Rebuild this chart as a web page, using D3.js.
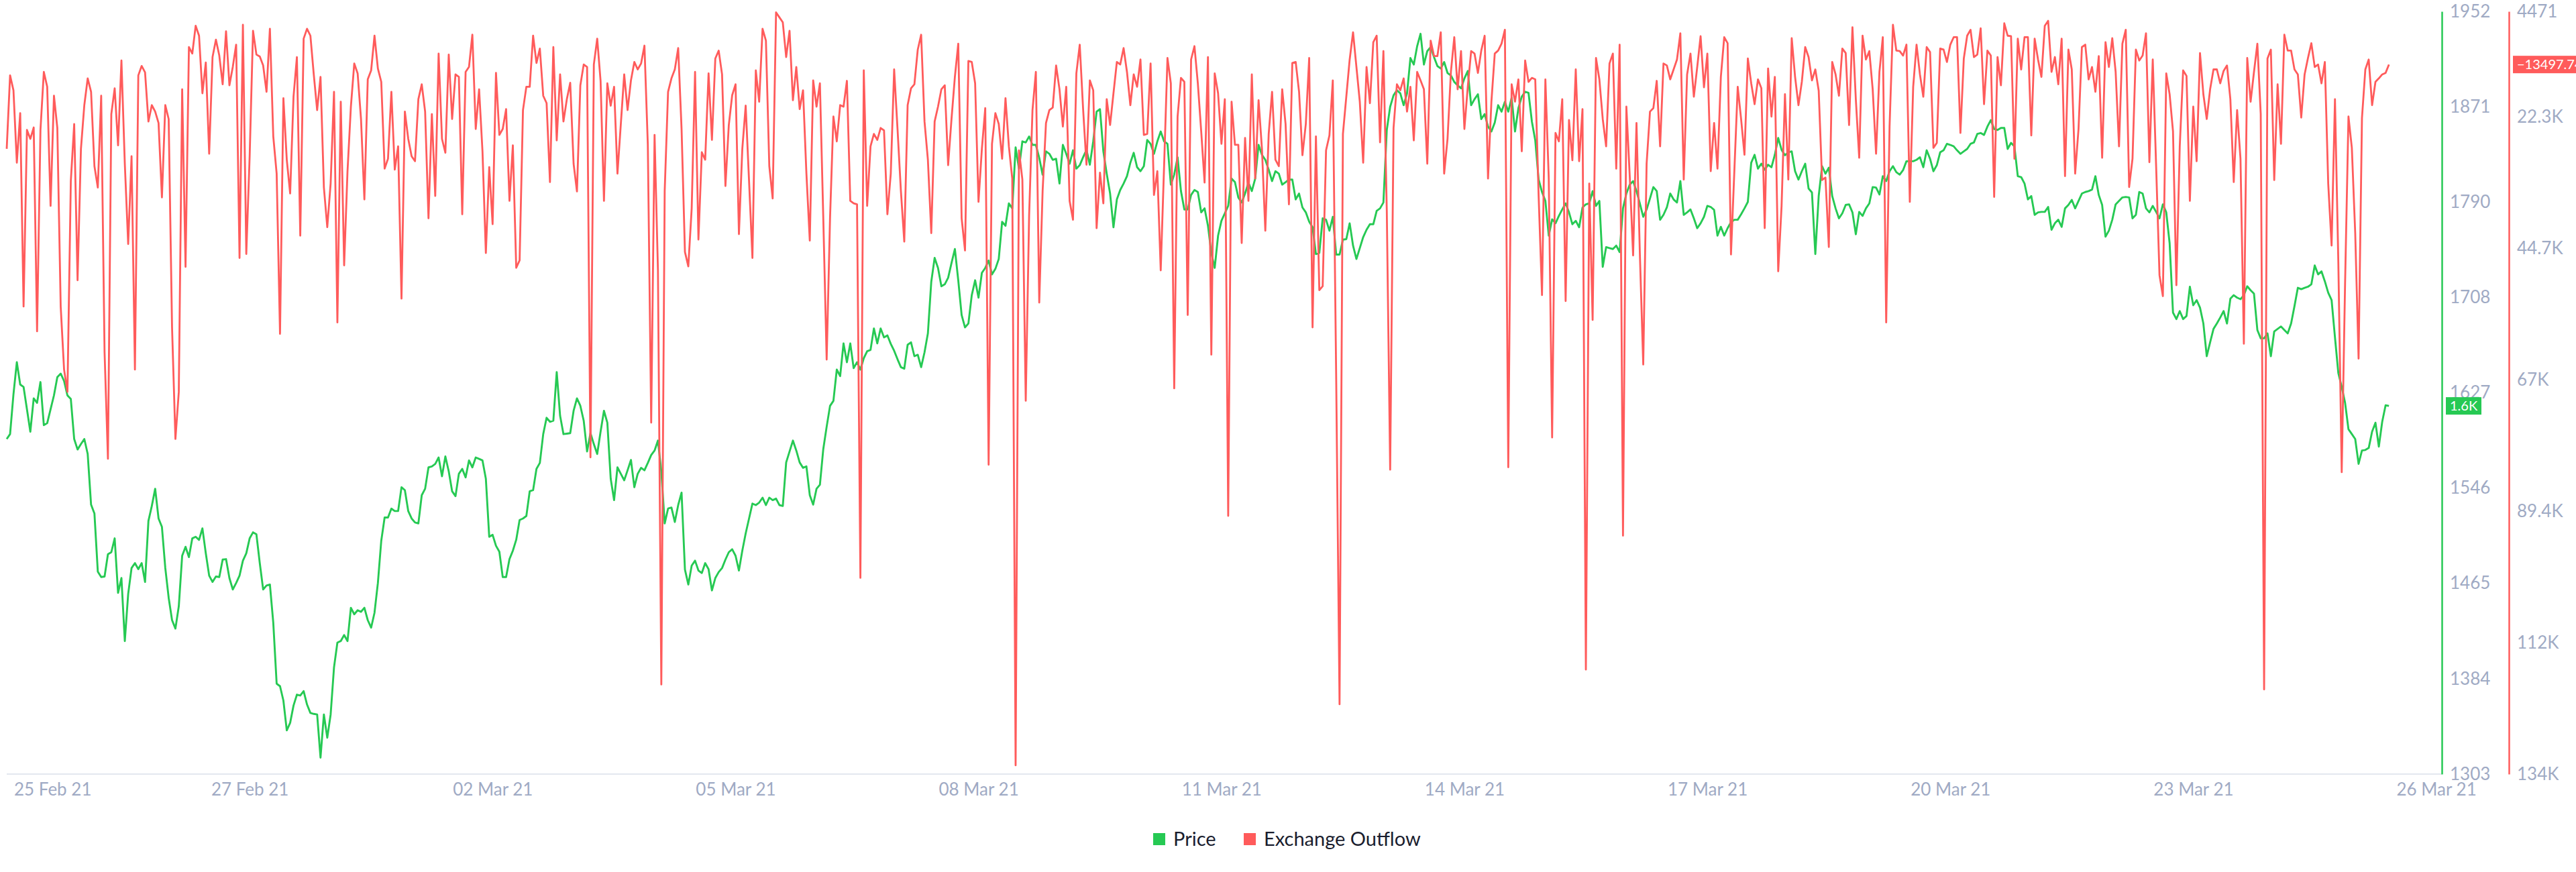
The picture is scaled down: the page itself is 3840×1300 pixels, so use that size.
<!DOCTYPE html>
<html><head><meta charset="utf-8">
<script src="https://cdn.jsdelivr.net/npm/d3@7"></script>
<style>
html,body{margin:0;padding:0;background:#fff;}
svg{display:block;}
text{font-family:Lato,"Open Sans",sans-serif;}
</style>
</head><body>
<svg id="chart" width="3840" height="1300"></svg>
<script>
// ---------- DATA ----------
const startTime = "2021-02-24T00:00:00Z";   // hourly series
const endTime = "2021-03-26T00:00:00Z";
const seriesNames = ["Price", "Exchange Outflow"];

const price = [
1588.1,1592.3,1626.1,1653.5,1634.5,1632.4,1613.4,1594.4,1622.7,1618.9,
1636.6,1599.9,1601.6,1613.4,1625.2,1640.8,1643.8,1637.5,1625.2,1622.2,
1588.1,1579.2,1583.8,1588.1,1575.4,1532.3,1524.7,1475.3,1470.7,1471.1,
1490.1,1491.8,1503.6,1457.2,1469.8,1416.2,1456.3,1478.3,1482.5,1477.4,
1482.5,1466.5,1518.4,1531.1,1545.8,1520.5,1513.3,1478.3,1453.0,1434.0,
1426.8,1445.8,1488.8,1496.4,1487.6,1503.6,1504.9,1502.3,1512.1,1490.9,
1471.9,1466.5,1471.1,1470.7,1485.5,1485.9,1469.8,1460.1,1465.6,1471.9,
1484.6,1490.9,1503.6,1508.7,1507.0,1482.5,1460.1,1463.5,1464.3,1431.8,
1379.9,1377.8,1365.5,1340.2,1346.6,1361.3,1370.6,1369.8,1373.6,1362.2,
1355.0,1354.2,1353.7,1317.0,1353.7,1333.9,1353.7,1393.8,1414.9,1416.2,
1421.3,1416.2,1444.5,1439.0,1442.4,1441.1,1444.5,1434.0,1427.6,1440.3,
1465.6,1501.5,1521.3,1521.3,1528.9,1526.8,1526.8,1547.1,1544.6,1526.8,
1520.5,1517.1,1516.3,1540.3,1545.8,1564.0,1564.8,1566.9,1572.4,1556.4,
1573.3,1560.6,1543.7,1539.5,1558.5,1562.7,1555.5,1569.9,1564.0,1572.4,
1571.2,
1569.9,1554.3,1504.9,1506.6,1497.3,1492.2,1470.7,1470.7,1485.9,1493.1,1502.4,1519.2,1520.5,1522.6,1543.7,1544.6,1562.7,1567.8,1592.3,1606.2,1602.8,1603.7,1645.1,1607.9,1592.3,
1592.7,
1593.1,1612.1,1622.7,1616.4,1603.7,1577.5,1593.1,1583.8,1575.4,1594.4,1612.1,1602.0,1554.3,1536.1,1564.0,
1558.5,
1553.0,1561.5,1570.3,1547.1,1558.5,1563.6,1561.5,1567.8,1574.5,1578.3,1586.8,1560.6,1516.3,1528.9,1529.8,1517.5,1531.9,1542.5,1477.0,1464.3,1480.4,1484.6,1476.2,1474.1,1482.5,1477.4,1459.3,1469.8,1474.9,1478.3,1485.5,1491.8,1494.3,1488.8,1476.2,
1493.1,
1507.8,1520.5,1533.2,1531.9,1534.0,1538.2,1531.9,1538.2,1536.1,1537.4,1531.9,1531.1,1568.2,1577.5,1586.8,1578.3,1568.2,1563.6,1564.8,1540.3,
1532.3,1545.8,1549.2,1579.6,1598.6,1616.3,1620.6,1647.2,1641.7,1669.5,1653.5,1669.5,1648.4,1653.5,1647.2,1656.9,1662.8,1664.0,1682.2,1669.5,1682.2,1674.6,1676.3,1669.1,1663.2,
1656.0,
1649.3,1648.0,1668.3,1670.4,1658.6,1659.8,1649.3,1661.9,1678.0,1721.9,1742.2,1733.7,1718.1,1719.8,1725.3,
1737.9,
1749.8,1723.2,1693.6,1683.1,1686.4,1710.5,1723.2,1708.4,1729.5,1733.7,1740.0,1728.2,1732.9,1741.3,1773.0,1769.6,1788.6,1784.4,1836.3,1818.2,1841.4,1840.5,1845.6,1838.4,1838.4,1827.4,1813.1,1832.9,1830.8,1825.7,1826.6,1805.5,1838.4,1830.8,1822.4,1833.8,1818.2,1821.1,1827.9,1834.2,1821.5,1841.4,1866.7,1868.8,1832.9,
1813.9,
1797.0,1768.3,1792.0,1800.0,1805.5,1811.8,1823.2,1831.7,1819.4,1816.0,1820.3,1842.6,1839.3,1830.8,1841.4,1849.8,1841.4,1839.3,1804.6,1813.1,1827.9,1799.1,1783.5,1783.5,1795.8,1800.0,1798.3,1781.0,1784.4,1769.6,1746.4,
1733.7,1761.2,1773.8,
1780.2,
1786.5,1809.7,1806.7,1793.7,1789.4,1797.0,1806.3,1799.1,1809.7,1838.4,1830.0,1825.7,1817.3,1807.6,1816.0,1813.9,1804.6,
1806.7,
1808.9,1808.9,1792.0,1797.0,1785.2,1781.0,1773.0,1768.3,1745.5,1746.4,1775.9,1774.7,1765.4,1777.2,1745.1,1745.1,1757.8,1758.2,1771.7,1752.7,1741.3,1750.6,1759.9,1766.2,1770.9,1770.9,1782.3,1784.4,1789.4,1851.1,1870.9,1880.6,1884.9,1882.3,1872.2,1882.3,1912.3,1906.8,1922.4,1933.0,1906.8,1918.2,1921.6,1913.1,1905.5,1903.4,1908.9,1899.6,1897.5,1892.0,
1889.1,
1886.5,1895.0,1901.3,1872.2,1877.3,1881.5,1860.4,1864.6,1854.0,1849.8,1857.4,1872.2,1866.7,1875.1,1866.7,1878.5,1849.8,1869.7,1879.4,1883.6,1882.7,1858.3,1842.2,1808.9,1798.3,1790.7,1761.2,1775.1,1771.7,1778.0,
1783.5,
1788.6,1781.0,1770.9,1773.8,1768.3,1785.2,1787.8,1788.6,1799.1,1786.5,1790.7,1734.6,1751.4,1750.6,1749.8,1752.7,
1747.2,1784.4,1797.0,1804.6,1807.6,1799.1,1788.6,1777.2,1783.5,1792.8,1802.5,1799.1,1774.7,1778.9,1785.2,1797.0,1792.0,1789.4,1807.6,1778.9,
1781.0,
1783.5,1775.9,1767.5,1771.7,1777.2,1786.5,1785.6,1783.1,1761.2,1768.7,1761.2,1767.5,1772.6,1774.7,1774.7,
1779.3,
1784.4,1789.9,1823.2,1830.0,1818.2,1822.4,1817.3,1821.5,1819.4,1830.0,1844.3,1834.2,1829.6,1832.1,1832.9,1816.0,1808.9,1816.0,1822.4,1801.3,1797.9,1745.5,1794.9,1820.3,1813.9,1819.0,1794.9,
1784.4,
1775.9,1780.2,1787.3,1787.8,1781.0,1762.4,1781.4,1778.0,1784.4,1788.6,1802.5,1802.1,1796.2,1811.8,1807.6,1816.0,1820.3,1815.2,1813.1,1816.9,1824.5,1824.5,1824.5,1825.7,1827.9,1819.4,1833.8,1826.6,1816.0,1821.1,1832.1,1833.8,1839.3,
1838.4,
1837.2,1833.8,1830.8,1832.9,1835.0,1839.3,1840.5,1847.7,1848.5,1846.9,1854.0,1859.5,1851.9,1851.1,1852.8,1852.8,1835.0,1840.1,1837.2,1811.8,
1811.0,1805.5,1792.0,1794.9,1778.9,1781.0,1781.4,1781.4,1785.6,1766.2,1771.7,1774.7,1768.7,1784.4,1787.3,1791.6,1784.4,1790.7,1797.0,1798.3,
1799.1,
1800.4,1811.8,1795.8,1787.3,1760.3,1765.4,1774.7,1787.8,1790.7,1793.7,1794.1,1793.7,1775.9,1778.9,1798.3,1797.0,1784.4,1781.0,1786.5,1781.4,1775.9,1787.8,1781.0,1754.8,1695.7,1690.2,1697.0,1690.2,1692.8,1717.7,1702.0,1706.3,1699.9,1686.4,1658.6,
1670.4,
1681.8,1686.4,1691.5,1697.0,1686.4,1707.5,1710.5,1708.4,1707.1,1710.5,1718.1,1714.7,1711.8,1680.9,1673.8,1673.8,1678.0,1658.6,1679.7,1681.8,1683.9,1680.9,1678.0,1686.4,1701.2,1716.8,1715.6,
1716.8,
1717.7,1719.8,1735.8,1728.2,1730.8,1722.3,1712.6,1706.3,1674.6,1644.2,1632.4,1618.9,1596.5,1592.3,1588.1,1567.0,1578.3,1578.8,1580.5,1594.4,1602.0,1581.7,1602.8,1616.8,1616.3
];

// exchange outflow, magnitude (the metric is reported as a negative number)
const outflowAbs = [
27823,15347,17876,30183,21753,54630,24620,26137,24198,58845,
24620,14757,17286,37518,18803,24282,54630,65337,69130,33303,
23608,50163,27823,20405,15852,18129,30774,34398,18803,62386,
80511,21922,17538,27233,12818,30352,44009,29088,65337,15347,
13745,14841,23187,20405,21501,23439,36084,20405,22765,58171,
77139,69130,17707,47886,10542,11637,6917,8603,18381,13155,
28666,12228,9277,11975,16864,7844,17033,13914,10120,46369,
6748,45695,29088,7760,11806,12143,13661,18129,7422,25716,
32038,59267,19224,29678,35410,18972,12228,42576,9108,7422,
8603,15178,21248,15600,34398,41142,33724,18129,57328,19815,
47634,31617,20658,13323,15009,22765,36421,16021,14504,8603,
14166,16443,31195,29509,18129,31364,27402,53282,21501,26137,
29088,29931,19393,16864,21501,39625,21922,35832,11637,26137,28497,11806,22765,15178,15600,38951,14757,13914,8434,24451,
17707,
28245,45526,30942,40637,14925,25463,24451,21079,36675,27233,48055,46791,21248,17286,17286,8603,13239,10794,18803,20067,33471,10542,26390,15178,23187,
19393,
16611,30352,35073,17033,13492,13914,80258,13492,9108,16274,36675,16695,20489,17286,32038,
23608,
15178,21248,16190,13071,14335,13323,10289,27149,74357,25463,48477,118867,34989,18129,15852,14335,10710,24451,45357,47802,37939,14757,43250,28413,29678,15009,26306,12480,11132,15178,34146,23777,18719,16864,42323,
27823,
20489,33303,46369,14504,19815,7422,9446,30774,36253,4641,5484,6327,12228,7760,19562,13914,21079,17876,32038,43419,
16190,20658,16695,39625,63651,39625,22344,26559,20405,20658,16274,36675,37096,37265,100743,14504,37518,27402,25294,26306,24282,24704,38951,32038,14335,
24451,
34989,43587,20405,17538,16864,10963,8434,23187,29678,42154,23187,20658,17707,17033,30605,
22765,
15600,9951,39625,45105,12902,13071,16695,36843,27823,20910,81522,26980,21753,23608,29509,19224,27402,32881,132608,28076,33050,70649,39204,21248,14757,53956,34989,23439,21248,20826,13661,17707,24030,17286,36675,39878,15009,10120,21079,30521,16190,17876,41311,31869,37096,
19393,
23777,18381,13071,13492,10710,14757,20405,15178,17286,12649,25463,25294,13323,35663,31617,48477,30774,12396,16695,68540,22344,15768,16443,56064,12649,10373,16695,24873,33555,12228,62808,
15009,18381,26980,
19393,
90205,19815,27149,27149,43840,25968,36675,15178,32881,19562,27823,41733,25294,18129,29678,30774,17707,
23608,
37265,13239,13071,18129,28919,23608,12396,58171,25716,51849,51174,28076,25547,16190,66601,122239,25294,18972,12649,8013,13914,19815,30183,13914,20067,9699,8603,26727,11216,38361,82365,24282,16864,17876,15852,21501,17286,26390,14757,16190,17707,30352,9446,12059,12059,8013,32038,26137,14757,8856,
17707,
11216,24451,17286,11216,11637,14925,11132,8603,32881,19815,11637,11132,9951,7591,81944,16864,19815,16021,28245,12818,16443,15768,16021,35832,52692,16021,32881,76886,25125,26559,
19393,
53703,22934,29762,14335,29931,21079,116338,33724,56907,12396,16021,22765,27402,13323,11637,31195,
10120,93577,20658,32460,45948,23439,45695,64494,30352,21501,20910,16274,27402,13323,13661,16021,14335,12649,8181,33050,
15178,
11637,18972,13914,8687,17370,11637,31617,23439,31195,15600,8856,9867,45779,31617,17286,
22765,
28835,12480,16695,20236,16021,17538,41311,14166,22344,15600,48645,37518,18550,33050,9024,15600,20405,16443,10542,12228,16190,14335,17960,33134,32712,44514,13071,
15178,
18803,10794,11553,23777,7170,19393,29340,8603,12649,11216,17707,28666,14757,8856,57328,24030,6748,11132,11216,11975,10120,36843,17286,10120,15178,18972,10542,11385,27655,26811,10794,10963,13071,
10120,
8856,8856,25125,12480,8603,7591,12228,11806,7338,20236,11132,11975,36000,12228,17033,6495,8603,8687,29509,9108,
14335,8856,8856,25547,9108,12649,15600,6917,6074,14757,12228,16864,9108,32460,10963,14335,32038,24451,10542,10120,
16021,
13914,18129,12059,29340,9699,13914,9024,14757,27402,9951,7591,34314,29509,10963,12818,11975,8181,30099,12649,30774,49320,52860,15009,18550,24873,51006,27402,14504,15431,36675,20658,29931,11553,18550,22765,
17707,
14335,14335,16695,14588,13661,19393,33471,21248,29509,60953,12396,19815,14757,9951,21922,119710,12480,10963,33134,16864,26980,8434,11132,11132,14335,15178,22512,
15178,
12396,9867,13914,13492,16695,13071,33724,44262,19393,47212,82787,50584,22344,27655,42154,63482,22597,14335,12649,20405,16443,
15852,
15178,14925,13497.74
];
const outflow = outflowAbs.map(v => -v);

const xTickDates = ["2021-02-25","2021-02-27","2021-03-02","2021-03-05","2021-03-08","2021-03-11","2021-03-14","2021-03-17","2021-03-20","2021-03-23","2021-03-26"];
const xTickLabels = ["25 Feb 21","27 Feb 21","02 Mar 21","05 Mar 21","08 Mar 21","11 Mar 21","14 Mar 21","17 Mar 21","20 Mar 21","23 Mar 21","26 Mar 21"];

const priceDomain = [1303, 1952];
const priceTicks = [1303, 1384.1, 1465.3, 1546.4, 1627.5, 1708.6, 1789.8, 1870.9, 1952];
const priceTickLabels = ["1303","1384","1465","1546","1627","1708","1790","1871","1952"];

const outflowDomain = [-134100, -4471];
const outflowTicks = [-4471, -22350, -44700, -67050, -89400, -111750, -134100];
const outflowTickLabels = ["4471","22.3K","44.7K","67K","89.4K","112K","134K"];

// ---------- STYLE / LAYOUT ----------
const GREEN = "#26c953", RED = "#ff5b5b", AXIS_TXT = "#9faac4", GRID = "#e3e7ef";
const M = {left: 10, right: 3640, top: 17, bottom: 1154};

const svg = d3.select("#chart");
svg.append("rect").attr("width", 3840).attr("height", 1300).attr("fill", "#fff");

const t0 = new Date(startTime);
const times = price.map((_, i) => new Date(t0.getTime() + i * 3600e3));

const x = d3.scaleUtc().domain([t0, new Date(endTime)]).range([M.left, 3631.6]);
const yP = d3.scaleLinear().domain(priceDomain).range([M.bottom, M.top]);
const yO = d3.scaleLinear().domain(outflowDomain).range([M.bottom, M.top]);

// x baseline
svg.append("line").attr("x1", M.left).attr("x2", M.right)
  .attr("y1", M.bottom).attr("y2", M.bottom)
  .attr("stroke", GRID).attr("stroke-width", 2);

// x axis labels
const xAxis = d3.axisBottom(x)
  .tickValues(xTickDates.map(d => new Date(d + "T00:00:00Z")))
  .tickFormat((d, i) => xTickLabels[i])
  .tickSize(0).tickPadding(14);
const gx = svg.append("g").attr("transform", `translate(0,${M.bottom})`).call(xAxis);
gx.select(".domain").remove();
gx.selectAll("text").attr("font-size", 26).attr("fill", AXIS_TXT).attr("font-family", "Lato");
// first label sits at the chart's left edge
gx.selectAll(".tick").filter((d, i) => i === 0)
  .attr("transform", `translate(${M.left + 11},0)`)
  .select("text").attr("text-anchor", "start");

// lines
const lineP = d3.line().x((d, i) => x(times[i])).y(d => yP(d));
const lineO = d3.line().x((d, i) => x(times[i])).y(d => yO(d));

svg.append("path").datum(price).attr("d", lineP)
  .attr("fill", "none").attr("stroke", GREEN).attr("stroke-width", 2.9)
  .attr("stroke-linejoin", "round");
svg.append("path").datum(outflow).attr("d", lineO)
  .attr("fill", "none").attr("stroke", RED).attr("stroke-width", 2.8)
  .attr("stroke-linejoin", "round");

// right axes
const axP = d3.axisRight(yP).tickValues(priceTicks)
  .tickFormat((d, i) => priceTickLabels[i]).tickSize(0).tickPadding(12);
const gP = svg.append("g").attr("transform", `translate(${M.right},0)`).call(axP);
gP.select(".domain").attr("stroke", GREEN).attr("stroke-width", 2.5);
gP.selectAll("text").attr("font-size", 26).attr("fill", AXIS_TXT).attr("font-family", "Lato");

const axO = d3.axisRight(yO).tickValues(outflowTicks)
  .tickFormat((d, i) => outflowTickLabels[i]).tickSize(0).tickPadding(12);
const gO = svg.append("g").attr("transform", `translate(${M.right + 100},0)`).call(axO);
gO.select(".domain").attr("stroke", RED).attr("stroke-width", 2.5);
gO.selectAll("text").attr("font-size", 26).attr("fill", AXIS_TXT).attr("font-family", "Lato");

// last-value badges
const lastP = price[price.length - 1];
const lastO = outflow[outflow.length - 1];
const pY = yP(lastP);
svg.append("rect").attr("x", M.right + 6).attr("y", pY - 13).attr("width", 53).attr("height", 26).attr("fill", GREEN);
svg.append("text").attr("x", M.right + 12).attr("y", pY).attr("dy", "0.35em")
  .attr("font-size", 20).attr("fill", "#fff")
  .text(d3.format(".2s")(lastP).replace("k", "K"));
const oY = yO(lastO);
svg.append("rect").attr("x", M.right + 106).attr("y", oY - 13).attr("width", 120).attr("height", 26).attr("fill", RED);
svg.append("text").attr("x", M.right + 112).attr("y", oY).attr("dy", "0.35em")
  .attr("font-size", 20).attr("fill", "#fff")
  .text(d3.format(".2f")(lastO));

// legend
const legend = [
  {name: seriesNames[0], color: GREEN, x: 1719},
  {name: seriesNames[1], color: RED, x: 1854}
];
const lg = svg.append("g");
legend.forEach(l => {
  lg.append("rect").attr("x", l.x).attr("y", 1242).attr("width", 18).attr("height", 18).attr("fill", l.color);
  lg.append("text").attr("x", l.x + 30).attr("y", 1261).attr("font-size", 29)
    .attr("fill", "#1a1d2e").text(l.name);
});
</script>
</body></html>
